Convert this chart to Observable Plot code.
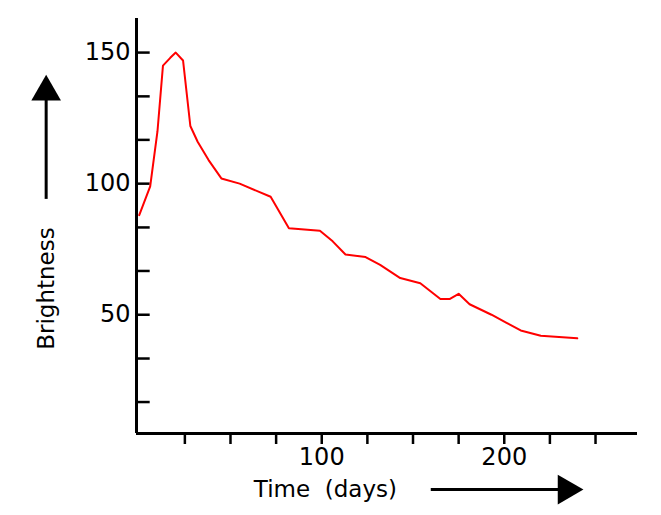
<!DOCTYPE html>
<html><head>
<script src="https://cdn.jsdelivr.net/npm/d3@7"></script>
<script src="https://cdn.jsdelivr.net/npm/@observablehq/plot@0.6"></script>
<style>body{margin:0;background:#fff}</style>
</head><body><div id="chart"></div>
<script>
const days = [0,6,10,13,17,20,24,28,32,38,45,55,72,82,99,106,113,124,132,143,154,165,170,175,181,193,201,209,220,240]
const brightness = [88,99,120,145,148,150,147,122,116,109,102,100,95,83,82,78,73,72,69,64,62,56,56,58,54,50,47,44,42,41]
const yTicks = [16.7,33.3,50,66.7,83.3,100,116.7,133.3,150]
const yLabels = [50,100,150]
const xTicks = [25,50,75,100,125,150,175,200,225,250]
const xLabels = [100,200]

const data = days.map((d, i) => ({day: d, b: brightness[i]}))
const font = "'DejaVu Sans', sans-serif"

const chart = Plot.plot({
  width: 661,
  height: 515,
  marginLeft: 136,
  marginRight: 24,
  marginTop: 18,
  marginBottom: 82,
  x: {domain: [-1.5, 273], axis: null},
  y: {domain: [4.7, 163], axis: null},
  style: {fontFamily: font, background: "#fff"},
  marks: [
    Plot.ruleX([-1.5], {stroke: "black", strokeWidth: 3}),
    Plot.ruleY([4.7], {stroke: "black", strokeWidth: 3}),
    Plot.ruleY(yTicks, {x1: -1.5, x2: 6, y: d => d, stroke: "black", strokeWidth: 2.5}),
    Plot.ruleX(xTicks, {y1: 4.7, y2: 0.5, x: d => d, stroke: "black", strokeWidth: 2.5}),
    Plot.text(yLabels, {x: -1.5, y: d => d, text: d => String(d), textAnchor: "end", dx: -6, fontSize: 24, letterSpacing: 2, fill: "black"}),
    Plot.text(xLabels, {x: d => d, y: 4.7, text: d => String(d), dy: 24, fontSize: 24, letterSpacing: 2, fill: "black"}),
    Plot.line(data, {x: "day", y: "b", stroke: "red", strokeWidth: 2}),
    Plot.text(["Brightness"], {x: -51, y: 60, text: d => d, rotate: -90, fontSize: 23, letterSpacing: 2, fill: "black"}),
    Plot.ruleX([-51], {y1: 94, y2: 133, stroke: "black", strokeWidth: 3}),
    Plot.dot([0], {x: -51, y: 135, symbol: "triangle", r: 11, fill: "black", stroke: null}),
    Plot.text(["Time  (days)"], {x: 102, y: -16.7, text: d => d, fontSize: 23, letterSpacing: 2, fill: "black"}),
    Plot.ruleY([-16.7], {x1: 160, x2: 230, stroke: "black", strokeWidth: 3}),
    Plot.dot([0], {x: 234, y: -16.7, symbol: "triangle", rotate: 90, r: 11, fill: "black", stroke: null})
  ]
})
document.getElementById("chart").append(chart)
</script>
</body></html>
